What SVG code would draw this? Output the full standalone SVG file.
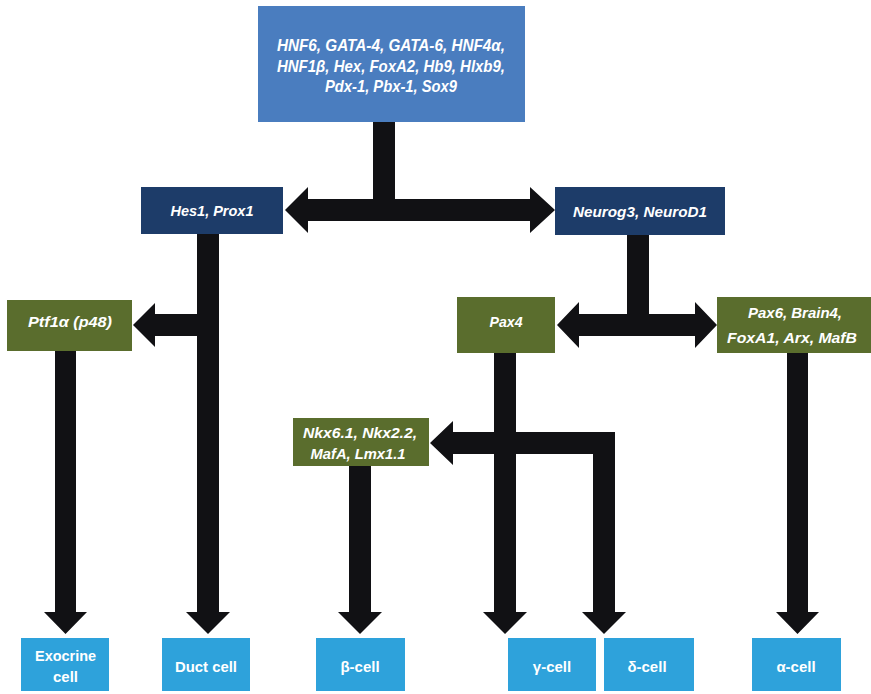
<svg xmlns="http://www.w3.org/2000/svg" width="871" height="694" viewBox="0 0 871 694">
<style>
.top{fill:#4a7dbf}
.navy{fill:#1d3c69}
.green{fill:#5a6d2d}
.cell{fill:#2ea2db}
.arr{fill:#111114}
text{font-family:"Liberation Sans",Arial,sans-serif;fill:#ffffff;font-weight:bold;text-anchor:middle}
.it{font-style:italic}
</style>
<rect x="0" y="0" width="871" height="694" fill="#ffffff"/>
<g id="connectors">
<path class="arr" d="M373,122 H395 V199 H530 V187 L555,210 L530,233 V221 H308 V233 L285,210 L308,187 V199 H373 Z"/>
<path class="arr" d="M197,234 H219 V612 H230 L208,634 L186,612 H197 V336 H155 V347 L133,325 L155,303 V314 H197 Z"/>
<path class="arr" d="M55,351 H76 V612 H87 L65.5,634 L44,612 H55 Z"/>
<path class="arr" d="M627,235 H649 V314 H695 V302 L717,325 L695,348 V336 H579 V348 L557,325 L579,302 V314 H627 Z"/>
<path class="arr" d="M494,353 H516 V612 H527 L505,634 L483,612 H494 Z"/>
<path class="arr" d="M453,421 L430,443 L453,465 V454 H593 V612 H582 L604,634 L626,612 H615 V432 H453 Z"/>
<path class="arr" d="M349,466 H371 V612 H382 L360,634 L338,612 H349 Z"/>
<path class="arr" d="M787,353 H808 V612 H819 L797.5,634 L776,612 H787 Z"/>
</g>
<g id="top">
<rect class="top" x="258" y="6" width="267" height="116"/>
<text class="it" x="391" y="51" font-size="17" textLength="228" lengthAdjust="spacingAndGlyphs">HNF6, GATA-4, GATA-6, HNF4α,</text>
<text class="it" x="391" y="72" font-size="17" textLength="228" lengthAdjust="spacingAndGlyphs">HNF1β, Hex, FoxA2, Hb9, Hlxb9,</text>
<text class="it" x="391" y="92" font-size="17" textLength="132" lengthAdjust="spacingAndGlyphs">Pdx-1, Pbx-1, Sox9</text>
</g>
<g id="hes1">
<rect class="navy" x="141" y="187" width="142" height="47"/>
<text class="it" x="212" y="216" font-size="14" textLength="83" lengthAdjust="spacingAndGlyphs">Hes1, Prox1</text>
</g>
<g id="neurog3">
<rect class="navy" x="555" y="187" width="170" height="48"/>
<text class="it" x="640" y="217" font-size="14" textLength="134" lengthAdjust="spacingAndGlyphs">Neurog3, NeuroD1</text>
</g>
<g id="ptf1a">
<rect class="green" x="7" y="300" width="125" height="51"/>
<text class="it" x="70" y="327" font-size="14" textLength="84" lengthAdjust="spacingAndGlyphs">Ptf1α (p48)</text>
</g>
<g id="pax4">
<rect class="green" x="457" y="297" width="98" height="56"/>
<text class="it" x="506" y="327" font-size="14" textLength="33" lengthAdjust="spacingAndGlyphs">Pax4</text>
</g>
<g id="pax6">
<rect class="green" x="717" y="297" width="154" height="56"/>
<text class="it" x="795" y="318" font-size="14" textLength="94" lengthAdjust="spacingAndGlyphs">Pax6, Brain4,</text>
<text class="it" x="792" y="343" font-size="14" textLength="130" lengthAdjust="spacingAndGlyphs">FoxA1, Arx, MafB</text>
</g>
<g id="nkx">
<rect class="green" x="293" y="418" width="136" height="48"/>
<text class="it" x="360" y="438" font-size="14" textLength="114" lengthAdjust="spacingAndGlyphs">Nkx6.1, Nkx2.2,</text>
<text class="it" x="358" y="459" font-size="14" textLength="95" lengthAdjust="spacingAndGlyphs">MafA, Lmx1.1</text>
</g>
<g id="exocrine">
<rect class="cell" x="21" y="638" width="88" height="53"/>
<text x="65.5" y="661" font-size="15" textLength="61" lengthAdjust="spacingAndGlyphs">Exocrine</text>
<text x="65.5" y="682" font-size="15">cell</text>
</g>
<g id="duct">
<rect class="cell" x="162" y="638" width="88" height="53"/>
<text x="206" y="672" font-size="15" textLength="62" lengthAdjust="spacingAndGlyphs">Duct cell</text>
</g>
<g id="beta">
<rect class="cell" x="316" y="638" width="89" height="53"/>
<text x="360" y="672" font-size="15">β-cell</text>
</g>
<g id="gamma">
<rect class="cell" x="508" y="638" width="88" height="53"/>
<text x="552" y="672" font-size="15">γ-cell</text>
</g>
<g id="delta">
<rect class="cell" x="604" y="638" width="90" height="53"/>
<text x="647" y="672" font-size="15">δ-cell</text>
</g>
<g id="alpha">
<rect class="cell" x="752" y="638" width="89" height="53"/>
<text x="796" y="672" font-size="15">α-cell</text>
</g>
</svg>
